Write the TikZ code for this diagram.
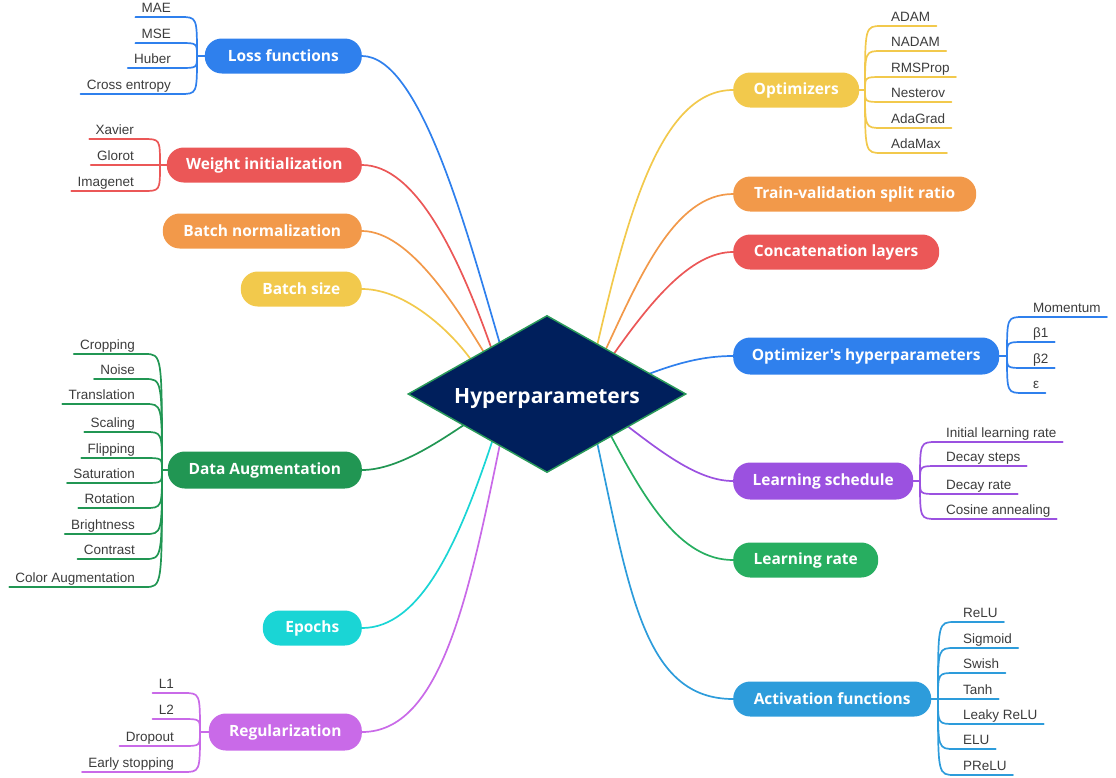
\documentclass[tikz,border=0pt]{standalone}
\usepackage{fontspec}
\setmainfont{Liberation Sans}
\newfontfamily\headfont{Open Sans}
\usetikzlibrary{shapes.geometric,calc,backgrounds}
\definecolor{cblue}{HTML}{2F80ED}
\definecolor{cred}{HTML}{EB5757}
\definecolor{corange}{HTML}{F2994A}
\definecolor{cyellow}{HTML}{F2C94C}
\definecolor{cgreen}{HTML}{219653}
\definecolor{ccyan}{HTML}{1AD5D5}
\definecolor{cpurple}{HTML}{C96AE8}
\definecolor{cviolet}{HTML}{9B51E0}
\definecolor{cgreentwo}{HTML}{27AE60}
\definecolor{cbluetwo}{HTML}{2D9CDB}
\definecolor{cnavy}{HTML}{001F5C}
\definecolor{cborder}{HTML}{2A9A5A}
\definecolor{leafgray}{HTML}{3C3C3C}
\tikzset{
  branch/.style={rounded corners=17pt, fill=#1, text=white,
    font=\headfont\bfseries\fontsize{15.5}{18}\selectfont,
    minimum height=35pt, inner sep=0pt},
  leaf/.style={font=\fontsize{13.5}{16}\selectfont, text=leafgray,
    inner xsep=6pt, inner ysep=0pt, text depth=4.5pt, text height=10pt},
  conn/.style={line width=1.7pt, draw=#1, line cap=round},
}
\begin{document}
\begin{tikzpicture}[x=1pt,y=-1pt]
\useasboundingbox (0,0) rectangle (1116,777);
% hub
\node[diamond, aspect=1.77, fill=cnavy, draw=cborder, line width=1.5pt,
  minimum width=278pt, minimum height=157pt, inner sep=0pt, text=white,
  text height=18pt, text depth=0pt,
  font=\headfont\bfseries\fontsize{21}{24}\selectfont] (hub) at (547,394) {Hyperparameters};
% branch nodes left
\node[branch=cblue, minimum width=157pt, anchor=east] (loss) at (362,56) {Loss functions};
\node[branch=cred, minimum width=195pt, anchor=east] (winit) at (362,165) {Weight initialization};
\node[branch=corange, minimum width=199pt, anchor=east] (bnorm) at (362,231) {Batch normalization};
\node[branch=cyellow, minimum width=121pt, anchor=east] (bsize) at (362,289) {Batch size};
\node[branch=cgreen, minimum width=194pt, minimum height=37pt, anchor=east] (daug) at (362,470) {Data Augmentation};
\node[branch=ccyan, minimum width=99pt, anchor=east] (epochs) at (362,628) {Epochs};
\node[branch=cpurple, minimum width=153pt, minimum height=37pt, anchor=east] (reg) at (362,732) {Regularization};
% branch nodes right
\node[branch=cyellow, minimum width=126pt, anchor=west] (opt) at (733,90) {Optimizers};
\node[branch=corange, minimum width=243pt, anchor=west] (tval) at (733,194) {Train-validation split ratio};
\node[branch=cred, minimum width=206pt, anchor=west] (concat) at (733,252) {Concatenation layers};
\node[branch=cblue, minimum width=266pt, minimum height=37pt, anchor=west] (ohyp) at (733,356) {Optimizer's hyperparameters};
\node[branch=cviolet, minimum width=180pt, minimum height=37pt, anchor=west] (lsched) at (733,481) {Learning schedule};
\node[branch=cgreentwo, minimum width=145pt, anchor=west] (lrate) at (733,560) {Learning rate};
\node[branch=cbluetwo, minimum width=198pt, anchor=west] (act) at (733,699) {Activation functions};
% connector start points on the diamond
\coordinate (e1) at (500,344);
\coordinate (e2) at (492,350);
\coordinate (e3) at (485,354);
\coordinate (e4) at (472,361);
\coordinate (e5) at (467,423);
\coordinate (e6) at (493,439);
\coordinate (e7) at (500,444);
\coordinate (e8) at (597,346);
\coordinate (e9) at (605,351);
\coordinate (e10) at (613,355);
\coordinate (e11) at (646,375);
\coordinate (e12) at (626,425);
\coordinate (e13) at (610,434);
\coordinate (e14) at (597,442);
\begin{pgfonlayer}{background}
\draw[conn=cblue] (e1) .. controls (466,228) and (420,56) .. (loss.east);
\draw[conn=cred] (e2) .. controls (458,253) and (415,165) .. (winit.east);
\draw[conn=corange] (e3) .. controls (458,310) and (410,231) .. (bnorm.east);
\draw[conn=cyellow] (e4) .. controls (450,330) and (405,289) .. (bsize.east);
\draw[conn=cgreen] (e5) .. controls (445,437) and (400,470) .. (daug.east);
\draw[conn=ccyan] (e6) .. controls (458,545) and (420,628) .. (epochs.east);
\draw[conn=cpurple] (e7) .. controls (468,600) and (440,732) .. (reg.east);
\draw[conn=cyellow] (e8) .. controls (627,217) and (660,90) .. (opt.west);
\draw[conn=corange] (e9) .. controls (640,276) and (675,194) .. (tval.west);
\draw[conn=cred] (e10) .. controls (649,304) and (690,252) .. (concat.west);
\draw[conn=cblue] (e11) .. controls (680,362) and (705,356) .. (ohyp.west);
\draw[conn=cviolet] (e12) .. controls (665,455) and (700,481) .. (lsched.west);
\draw[conn=cgreentwo] (e13) .. controls (645,500) and (680,560) .. (lrate.west);
\draw[conn=cbluetwo] (e14) .. controls (630,595) and (645,699) .. (act.west);
\end{pgfonlayer}
% junctions
\coordinate (jloss) at (197,56);
\coordinate (jwinit) at (160,165);
\coordinate (jdaug) at (162,470);
\coordinate (jreg) at (200,732);
\coordinate (jopt) at (865,90);
\coordinate (johyp) at (1007,356);
\coordinate (jls) at (920,481);
\coordinate (jact) at (938,699);
\draw[conn=cblue] (loss.west) -- (jloss);
\draw[conn=cred] (winit.west) -- (jwinit);
\draw[conn=cgreen] (daug.west) -- (jdaug);
\draw[conn=cpurple] (reg.west) -- (jreg);
\draw[conn=cyellow] (opt.east) -- (jopt);
\draw[conn=cblue] (ohyp.east) -- (johyp);
\draw[conn=cviolet] (lsched.east) -- (jls);
\draw[conn=cbluetwo] (act.east) -- (jact);
% left leaves
\foreach \y/\t [count=\i] in {17/MAE,43/MSE,68/Huber,94/Cross entropy}{
  \node[leaf, anchor=south east] (lossl\i) at (177,\y) {\t};
  \draw[conn=cblue] (lossl\i.south west) -- ($(jloss |- lossl\i.south)+(-17,0)$) .. controls (jloss |- lossl\i.south) .. (jloss);
}
\foreach \y/\t [count=\i] in {139/Xavier,165/Glorot,191/Imagenet}{
  \node[leaf, anchor=south east] (winitl\i) at (140,\y) {\t};
  \draw[conn=cred] (winitl\i.south west) -- ($(jwinit |- winitl\i.south)+(-17,0)$) .. controls (jwinit |- winitl\i.south) .. (jwinit);
}
\foreach \y/\t [count=\i] in {354/Cropping,379/Noise,404/Translation,432/Scaling,458/Flipping,483/Saturation,508/Rotation,534/Brightness,559/Contrast,587/Color Augmentation}{
  \node[leaf, anchor=south east] (daugl\i) at (141,\y) {\t};
  \draw[conn=cgreen] (daugl\i.south west) -- ($(jdaug |- daugl\i.south)+(-17,0)$) .. controls (jdaug |- daugl\i.south) .. (jdaug);
}
\foreach \y/\t [count=\i] in {693/L1,719/L2,746/Dropout,772/Early stopping}{
  \node[leaf, anchor=south east] (regl\i) at (180,\y) {\t};
  \draw[conn=cpurple] (regl\i.south west) -- ($(jreg |- regl\i.south)+(-17,0)$) .. controls (jreg |- regl\i.south) .. (jreg);
}
% right leaves
\foreach \y/\t [count=\i] in {26/ADAM,51/NADAM,77/RMSProp,102/Nesterov,128/AdaGrad,153/AdaMax}{
  \node[leaf, anchor=south west] (optl\i) at (885,\y) {\t};
  \draw[conn=cyellow] (jopt) .. controls (jopt |- optl\i.south) .. ($(jopt |- optl\i.south)+(17,0)$) -- (optl\i.south east);
}
\foreach \y/\t [count=\i] in {317/Momentum,342/β1,368/β2,393/ε}{
  \node[leaf, anchor=south west] (ohypl\i) at (1027,\y) {\t};
  \draw[conn=cblue] (johyp) .. controls (johyp |- ohypl\i.south) .. ($(johyp |- ohypl\i.south)+(17,0)$) -- (ohypl\i.south east);
}
\foreach \y/\t [count=\i] in {442/Initial learning rate,466/Decay steps,494/Decay rate,519/Cosine annealing}{
  \node[leaf, anchor=south west] (lsl\i) at (940,\y) {\t};
  \draw[conn=cviolet] (jls) .. controls (jls |- lsl\i.south) .. ($(jls |- lsl\i.south)+(17,0)$) -- (lsl\i.south east);
}
\foreach \y/\t [count=\i] in {622/ReLU,648/Sigmoid,673/Swish,699/Tanh,724/Leaky ReLU,749/ELU,775/PReLU}{
  \node[leaf, anchor=south west] (actl\i) at (957,\y) {\t};
  \draw[conn=cbluetwo] (jact) .. controls (jact |- actl\i.south) .. ($(jact |- actl\i.south)+(17,0)$) -- (actl\i.south east);
}
\end{tikzpicture}
\end{document}
